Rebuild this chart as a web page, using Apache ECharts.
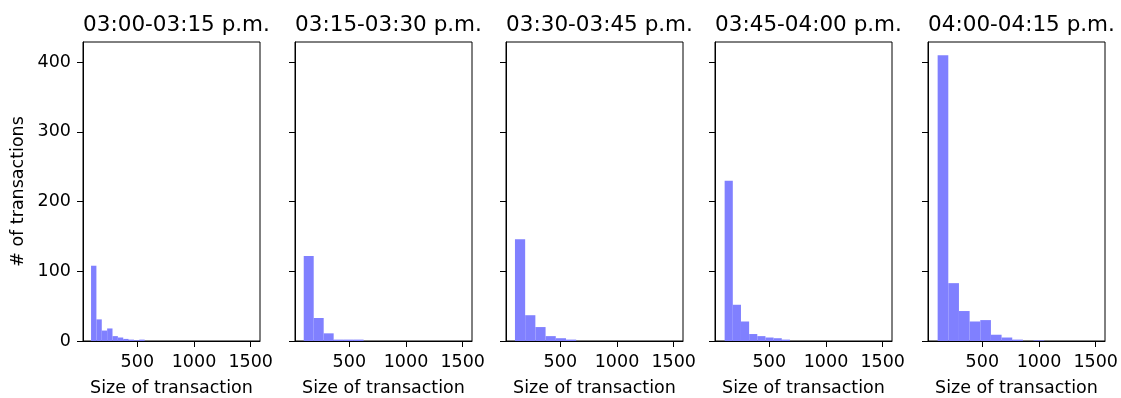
<!DOCTYPE html>
<html><head><meta charset="utf-8">
<script src="https://cdn.jsdelivr.net/npm/echarts@6/dist/echarts.min.js"></script>
<style>html,body{margin:0;padding:0;background:#fff}#c{width:1121px;height:398px}</style>
</head><body><div id="c"></div>
<script>
// ---- data ----
const panelTitles = ['03:00-03:15 p.m.', '03:15-03:30 p.m.', '03:30-03:45 p.m.', '03:45-04:00 p.m.', '04:00-04:15 p.m.'];
const binStarts = [92, 98, 100, 106, 106];
const binWidths = [47.3, 88, 90, 72, 94];
const counts1 = [108, 31, 15, 18, 7, 5, 3, 2, 1, 2, 0, 0, 0, 0, 0, 0, 0, 0, 0, 0, 0, 0, 0, 0, 0, 0, 0, 0, 0, 0];
const counts2 = [122, 33, 11, 2, 2, 2, 0, 0, 0, 0];
const counts3 = [146, 37, 20, 7, 4, 2, 0, 0, 0, 0];
const counts4 = [230, 52, 28, 10, 7, 5, 4, 2, 0, 0];
const counts5 = [410, 83, 43, 28, 30, 9, 5, 2, 0, 1];
const xTicks = [500, 1000, 1500];
const yTicks = [0, 100, 200, 300, 400];
const xLabel = 'Size of transaction';
const yLabel = '# of transactions';

const allCounts = [counts1, counts2, counts3, counts4, counts5];
const FONT = 'DejaVu Sans';
const gridLefts = [83, 295, 506, 715, 928];
const gridW = 177, gridTop = 42, gridH = 299;

const grids = [], xAxes = [], yAxes = [], series = [], titles = [];
allCounts.forEach((cs, i) => {
  grids.push({left: gridLefts[i], top: gridTop, width: gridW, height: gridH, show: true,
    outerBoundsMode: 'none', containLabel: false,
    borderColor: '#000', borderWidth: 1, backgroundColor: 'transparent'});
  xAxes.push({type: 'value', gridIndex: i, min: 21, max: 1582, interval: 500,
    name: xLabel, nameLocation: 'middle', nameGap: 38,
    nameTextStyle: {fontFamily: FONT, fontSize: 17.5, color: '#000'},
    axisLine: {show: true, onZero: false, lineStyle: {color: '#000', width: 1}},
    axisTick: {show: true, length: 6, lineStyle: {color: '#000'}, customValues: xTicks},
    axisLabel: {fontFamily: FONT, fontSize: 17.5, color: '#000', margin: 12, customValues: xTicks,
      formatter: v => String(v)},
    splitLine: {show: false}});
  yAxes.push({type: 'value', gridIndex: i, min: 0, max: 429,
    name: i === 0 ? yLabel : '', nameLocation: 'middle', nameGap: 56, nameRotate: 90,
    nameTextStyle: {fontFamily: FONT, fontSize: 17.5, color: '#000'},
    axisLine: {show: true, lineStyle: {color: '#000', width: 1}},
    axisTick: {show: true, length: 6, lineStyle: {color: '#000'}, customValues: yTicks},
    axisLabel: {show: i === 0, fontFamily: FONT, fontSize: 17.5, color: '#000', margin: 12, customValues: yTicks,
      formatter: v => String(v)},
    splitLine: {show: false}});
  const data = cs.map((c, k) => [binStarts[i] + k * binWidths[i], binStarts[i] + (k + 1) * binWidths[i], c]);
  series.push({type: 'custom', xAxisIndex: i, yAxisIndex: i, data: data,
    renderItem: function (params, api) {
      const p0 = api.coord([api.value(0), api.value(2)]);
      const p1 = api.coord([api.value(1), 0]);
      return {type: 'rect', shape: {x: p0[0], y: p0[1], width: p1[0] - p0[0], height: p1[1] - p0[1]},
        style: {fill: '#8080ff'}};
    }});
  titles.push({text: panelTitles[i], left: gridLefts[i] + gridW / 2, top: 9, textAlign: 'center',
    textStyle: {fontFamily: FONT, fontSize: 21.5, fontWeight: 'normal', color: '#000'}});
});

const chart = echarts.init(document.getElementById('c'), null, {renderer: 'canvas'});
chart.setOption({animation: false, backgroundColor: '#fff', title: titles, grid: grids,
  xAxis: xAxes, yAxis: yAxes, series: series});
</script></body></html>
